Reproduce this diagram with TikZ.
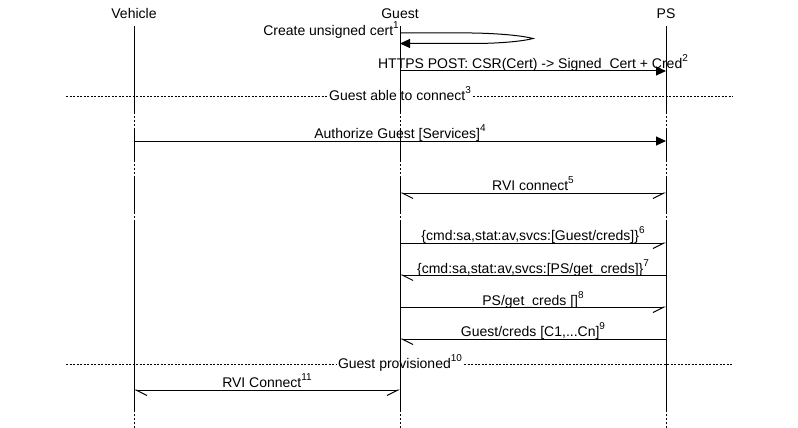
\documentclass[tikz,border=0pt]{standalone}
\usepackage{fontspec}
\setmainfont{Liberation Sans}
\usetikzlibrary{arrows.meta,calc}
\tikzset{
  >={Triangle[length=10pt,width=9pt]},
  txt/.style={font=\fontsize{14}{16}\selectfont, inner sep=0pt, anchor=base},
  actor/.style={txt},
  lab/.style={txt},
  divlab/.style={txt, inner xsep=2pt},
  life/.style={line width=1pt},
  lifegap/.style={line width=1pt, dash pattern=on 2pt off 2pt},
  divline/.style={line width=1pt, dash pattern=on 2pt off 1.5pt},
  call/.style={->, line width=1pt},
  msgE/.style={-{Straight Barb[harpoon,swap,length=11pt,width=11pt]}, line width=1pt},
  msgW/.style={-{Straight Barb[harpoon,length=11pt,width=11pt]}, line width=1pt},
  msgB/.style={{Straight Barb[harpoon,length=11pt,width=11pt]}-{Straight Barb[harpoon,swap,length=11pt,width=11pt]}, line width=1pt}
}
\newcommand{\nref}[1]{\raisebox{7pt}{\fontsize{10}{10}\selectfont #1}}

\begin{document}
\begin{tikzpicture}[x=1pt, y=-1pt]
\useasboundingbox (0,0) rectangle (798,428);
\node[actor] (veh) at (134,18.5) {Vehicle};
\node[actor] (guest) at (400,18.5) {Guest};
\node[actor] (ps) at (666,18.5) {PS};
\coordinate (r1) at (0,33);
\coordinate (r1b) at (0,43.5);
\coordinate (r2) at (0,71);
\coordinate (r3) at (0,96);
\coordinate (r4) at (0,141);
\coordinate (r5) at (0,193);
\coordinate (r6) at (0,243);
\coordinate (r7) at (0,275);
\coordinate (r8) at (0,307);
\coordinate (r9) at (0,339);
\coordinate (r10) at (0,364);
\coordinate (r11) at (0,390);
\coordinate (dl) at (66,0);
\coordinate (dr) at (733,0);

\node[lab, anchor=base east] (m1) at (399,36) {Create unsigned cert\nref{1}};
\node[lab] (m2) at (533,68.8) {HTTPS POST: CSR(Cert) -> Signed\_Cert + Cred\nref{2}};
\node[divlab] (m3) at (400,100) {Guest able to connect\nref{3}};
\node[lab] (m4) at (400,138) {Authorize Guest [Services]\nref{4}};
\node[lab] (m5) at (533,190) {RVI connect\nref{5}};
\node[lab] (m6) at (533,240) {\{cmd:sa,stat:av,svcs:[Guest/creds]\}\nref{6}};
\node[lab] (m7) at (533,273.3) {\{cmd:sa,stat:av,svcs:[PS/get\_creds]\}\nref{7}};
\node[lab] (m8) at (533,305.3) {PS/get\_creds []\nref{8}};
\node[lab] (m9) at (533,336) {Guest/creds [C1,...Cn]\nref{9}};
\node[divlab] (m10) at (400,368) {Guest provisioned\nref{10}};
\node[lab] (m11) at (267,387) {RVI Connect\nref{11}};

\foreach \e in {veh,guest,ps}{
  \foreach \a/\b in {26/112,128/160,178/212,222/410}
    \draw[life] (\e |- 0,\a) -- (\e |- 0,\b);
  \foreach \a/\b in {112/128,160/178,212/222,410/428}
    \draw[lifegap] (\e |- 0,\a) -- (\e |- 0,\b);
}

\draw[divline] (dl |- r3) -- (m3.west |- r3);
\draw[divline] (m3.east |- r3) -- (dr |- r3);
\draw[divline] (dl |- r10) -- (m10.west |- r10);
\draw[divline] (m10.east |- r10) -- (dr |- r10);

\draw[call] (guest |- r1) -- ++(72,0) .. controls +(33,0.5) and +(-7,-2) .. ++(61,5.5)
  .. controls +(-7,2) and +(33,0) .. ++(-61,5) -- (guest |- r1b);
\draw[call] (guest |- r2) -- (ps |- r2);
\draw[call] (veh |- r4) -- (ps |- r4);
\draw[msgB] (guest |- r5) -- (ps |- r5);
\draw[msgE] (guest |- r6) -- (ps |- r6);
\draw[msgW] (ps |- r7) -- (guest |- r7);
\draw[msgE] (guest |- r8) -- (ps |- r8);
\draw[msgW] (ps |- r9) -- (guest |- r9);
\draw[msgB] (veh |- r11) -- (guest |- r11);
\end{tikzpicture}
\end{document}
